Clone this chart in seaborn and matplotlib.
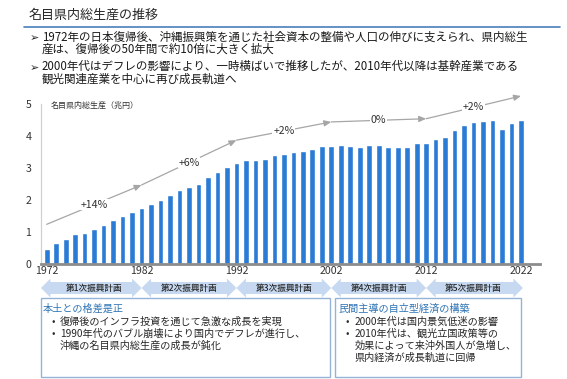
import numpy as np
import pandas as pd
import seaborn as sns
import matplotlib.pyplot as plt
from matplotlib.patches import Polygon, Rectangle
from matplotlib.lines import Line2D

# ------------------------ Data ------------------------
years = list(range(1972, 2023))
gdp = [0.46, 0.67, 0.77, 0.93, 0.98, 1.09, 1.23, 1.37, 1.50, 1.62,
       1.74, 1.86, 2.00, 2.17, 2.31, 2.42, 2.50, 2.71, 2.89, 3.03,
       3.15, 3.26, 3.25, 3.29, 3.40, 3.44, 3.50, 3.53, 3.59, 3.69,
       3.69, 3.73, 3.68, 3.67, 3.71, 3.71, 3.65, 3.65, 3.67, 3.77,
       3.79, 3.92, 3.98, 4.18, 4.34, 4.43, 4.48, 4.50, 4.23, 4.40,
       4.49]

trend_years = [1972, 1982, 1992, 2002, 2012, 2022]
trend_vals = [1.24, 2.47, 3.87, 4.44, 4.54, 5.25]
trend_labels = ['+14%', '+6%', '+2%', '0%', '+2%']

plan_names = ['第1次振興計画', '第2次振興計画', '第3次振興計画', '第4次振興計画', '第5次振興計画']
plan_bounds = [1972, 1982, 1992, 2002, 2012, 2022]

x_ticks = [1972, 1982, 1992, 2002, 2012, 2022]
y_ticks = [0, 1, 2, 3, 4, 5]

title = '名目県内総生産の推移'
top_bullets = [
    ['1972年の日本復帰後、沖縄振興策を通じた社会資本の整備や人口の伸びに支えられ、県内総生',
     '産は、復帰後の50年間で約10倍に大きく拡大'],
    ['2000年代はデフレの影響により、一時横ばいで推移したが、2010年代以降は基幹産業である',
     '観光関連産業を中心に再び成長軌道へ'],
]
left_title = '本土との格差是正'
left_lines = [('•', '復帰後のインフラ投資を通じて急激な成長を実現'),
              ('•', '1990年代のバブル崩壊により国内でデフレが進行し、'),
              ('', '沖縄の名目県内総生産の成長が鈍化')]
right_title = '民間主導の自立型経済の構築'
right_lines = [('•', '2000年代は国内景気低迷の影響'),
               ('•', '2010年代は、観光立国政策等の'),
               ('', '効果によって来沖外国人が急増し、'),
               ('', '県内経済が成長軌道に回帰')]

df = pd.DataFrame({'year': years, 'gdp': gdp})

# ------------------------ Styling ------------------------
sns.set_theme(style='white')
plt.rcParams['font.family'] = ['Noto Sans CJK JP', 'DejaVu Sans']

W, H = 567, 379
fig = plt.figure(figsize=(W / 100, H / 100), dpi=100)


def fx(px):
    return px / W


def fy(py):
    return 1 - py / H


dark = '#262626'
bar_blue = '#2a7bd5'
light_blue = '#c6d9f1'
box_edge = '#95b3d7'
title_blue = '#2e74b5'

# ------------------------ Header ------------------------
fig.text(fx(29), fy(15), title, fontsize=9.4, color=dark, va='center', ha='left')
fig.add_artist(Line2D([fx(24), fx(560)], [fy(26.5), fy(26.5)], color='#4a7ebb', lw=1.2))

block_y = [43.2, 72.8]
bullet_y = [38, 68]
for items, yb, yc in zip(top_bullets, bullet_y, block_y):
    fig.text(fx(30), fy(yb), '➢', fontsize=8, color=dark, va='center', ha='left',
             family=['DejaVu Sans'])
    fig.text(fx(42), fy(yc), '\n'.join(items), fontsize=8.3, color='#1a1a1a',
             va='center', ha='left', linespacing=0.92)

# ------------------------ Bar chart ------------------------
ax = fig.add_axes([fx(41), fy(264), fx(540) - fx(41), fy(104) - fy(264)])
sns.barplot(data=df, x='year', y='gdp', native_scale=True, width=0.6,
            color=bar_blue, saturation=1, ax=ax)
ax.set_xlim(1971.4, 2024)
ax.set_ylim(0, 5)
ax.set_xticks(x_ticks)
ax.set_yticks(y_ticks)
ax.set_xlabel('')
ax.set_ylabel('')
ax.tick_params(axis='both', length=0, labelsize=7.6, colors='#333333')
ax.tick_params(axis='y', pad=7)
ax.tick_params(axis='x', pad=1.5)
for s in ['top', 'right']:
    ax.spines[s].set_visible(False)
ax.spines['left'].set_color('#d0d0d0')
ax.spines['left'].set_linewidth(0.9)
ax.spines['bottom'].set_color('#8c8c8c')
ax.spines['bottom'].set_linewidth(2)
ax.text(0.02, 0.99, '名目県内総生産（兆円）', transform=ax.transAxes, fontsize=5.8,
        color='#333333', va='center', ha='left')

# trend line with arrow segments
for i in range(len(trend_years) - 1):
    ax.annotate('', xy=(trend_years[i + 1], trend_vals[i + 1]),
                xytext=(trend_years[i], trend_vals[i]),
                arrowprops=dict(arrowstyle='-|>,head_length=0.35,head_width=0.15',
                                color='#a6a6a6', lw=0.9, shrinkA=0, shrinkB=0),
                annotation_clip=False)
    mx = (trend_years[i] + trend_years[i + 1]) / 2
    my = (trend_vals[i] + trend_vals[i + 1]) / 2
    ax.text(mx, my, trend_labels[i], fontsize=7.6, color='#333333', ha='center', va='center',
            bbox=dict(facecolor='white', edgecolor='none', pad=0.6), clip_on=False)

# ------------------------ Plan arrows ------------------------
ax2 = fig.add_axes([fx(41), fy(298), fx(540) - fx(41), fy(278) - fy(298)], sharex=ax)
ax2.set_ylim(-10, 10)
ax2.axis('off')
head = 1.0
for i, name in enumerate(plan_names):
    x0 = plan_bounds[i] - (0.6 if i == 0 else 0)
    x1 = plan_bounds[i + 1] + (0.2 if i == len(plan_names) - 1 else 0)
    pts = [(x0, 0), (x0 + head, 9.5), (x0 + head, 6), (x1 - head, 6), (x1 - head, 9.5),
           (x1, 0), (x1 - head, -9.5), (x1 - head, -6), (x0 + head, -6), (x0 + head, -9.5)]
    ax2.add_patch(Polygon(pts, closed=True, facecolor=light_blue, edgecolor='none'))
    ax2.text((plan_bounds[i] + plan_bounds[i + 1]) / 2, 0, name, fontsize=6.2,
             color='#262626', ha='center', va='center', fontweight='medium')

# ------------------------ Bottom boxes ------------------------
for (bx0, bx1) in [(40.7, 330), (334.5, 521)]:
    fig.add_artist(Rectangle((fx(bx0), fy(377)), fx(bx1) - fx(bx0), fy(298) - fy(377),
                             transform=fig.transFigure, facecolor='none',
                             edgecolor=box_edge, lw=1))

box_fs = 7.3
fig.text(fx(43), fy(309), left_title, fontsize=box_fs, color=title_blue, va='center')
for (b, txt), yy in zip(left_lines, [322, 334, 346]):
    if b:
        fig.text(fx(51), fy(yy), b, fontsize=box_fs, color=dark, va='center')
    fig.text(fx(60), fy(yy), txt, fontsize=box_fs, color=dark, va='center')

fig.text(fx(338), fy(309), right_title, fontsize=box_fs, color=title_blue, va='center')
for (b, txt), yy in zip(right_lines, [322, 334, 346, 358]):
    if b:
        fig.text(fx(345), fy(yy), b, fontsize=box_fs, color=dark, va='center')
    fig.text(fx(354.5), fy(yy), txt, fontsize=box_fs, color=dark, va='center')

fig.savefig('out.png', dpi=100)
